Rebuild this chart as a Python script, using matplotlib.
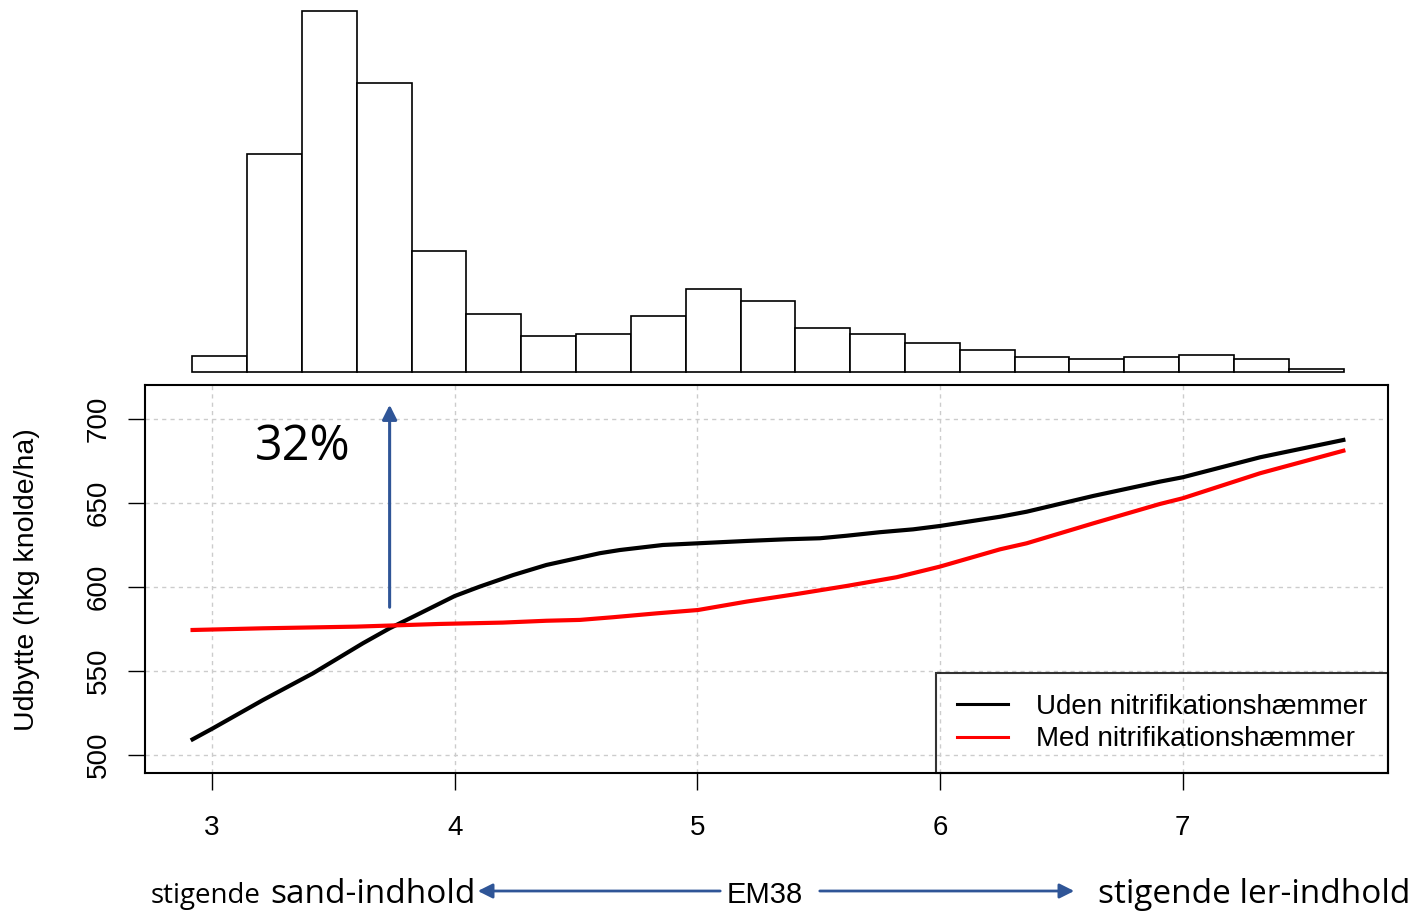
import numpy as np
import matplotlib.pyplot as plt

# EM38 values and yield curves
em38_uden = [2.920, 3.004, 3.210, 3.416, 3.622, 3.732, 3.829, 4.000, 4.103, 4.241,
             4.378, 4.598, 4.681, 4.858, 5.002, 5.203, 5.368, 5.505, 5.615, 5.752,
             5.889, 5.999, 6.247, 6.357, 6.632, 6.906, 7.000, 7.319, 7.662]
udbytte_uden = [509.3, 515.9, 532.7, 548.6, 566.5, 575.4, 582.3, 594.6, 600.2, 607.1,
                613.1, 620.1, 622.0, 625.0, 626.0, 627.4, 628.4, 629.0, 630.5, 632.6,
                634.3, 636.3, 641.8, 644.8, 654.2, 662.7, 665.3, 677.2, 687.5]

em38_med = [2.920, 3.209, 3.595, 3.939, 4.198, 4.378, 4.516, 4.653, 4.832, 5.003,
            5.203, 5.409, 5.615, 5.821, 5.999, 6.247, 6.357, 6.632, 6.906, 7.000,
            7.319, 7.662]
udbytte_med = [574.4, 575.4, 576.4, 578.0, 578.8, 579.9, 580.4, 582.0, 584.3, 586.3,
               591.3, 595.8, 600.6, 605.8, 612.1, 622.4, 626.0, 637.9, 649.4, 652.8,
               667.7, 681.1]

# histogram of EM38 (bar heights, arbitrary units)
hist_edges = [2.919, 3.145, 3.371, 3.597, 3.823, 4.048, 4.274, 4.500, 4.726, 4.952,
              5.178, 5.404, 5.630, 5.856, 6.082, 6.308, 6.533, 6.759, 6.985, 7.211,
              7.437, 7.663]
hist_counts = [16, 218, 361, 289, 121, 58, 36, 38, 56, 83, 71, 44, 38, 29, 22, 15,
               13, 15, 17, 13, 3.5]

x_ticks = [3, 4, 5, 6, 7]
y_ticks = [500, 550, 600, 650, 700]
labels = ['Uden nitrifikationshæmmer', 'Med nitrifikationshæmmer']

plt.rcParams['font.family'] = ['Liberation Sans', 'DejaVu Sans']
blue = '#2F5597'
W, H = 1417, 911

fig = plt.figure(figsize=(W / 100, H / 100), dpi=100)
ax = fig.add_axes([145 / W, 1 - 773.3 / H, 1243 / W, 388.6 / H])
axh = fig.add_axes([145 / W, 1 - 372 / H, 1243 / W, 361 / H])

# histogram on top
bars = axh.bar(hist_edges[:-1], hist_counts, width=np.diff(hist_edges), align='edge',
               facecolor='white', edgecolor='black', linewidth=1.2)
for b in bars:
    b.set_clip_on(False)
axh.set_xlim(2.724, 7.846)
axh.set_ylim(0, 361)
axh.axis('off')

# main plot
ax.plot(em38_uden, udbytte_uden, color='black', lw=3, label=labels[0])
ax.plot(em38_med, udbytte_med, color='red', lw=3, label=labels[1])
ax.set_xlim(2.724, 7.846)
ax.set_ylim(489.1, 720.4)
ax.set_xticks(x_ticks)
ax.set_yticks(y_ticks)
ax.grid(color='#cccccc', linestyle=(0, (3, 3)), lw=1)
ax.set_axisbelow(True)
for s in ax.spines.values():
    s.set_linewidth(1.5)
ax.tick_params(length=12, width=1, direction='out', labelsize=20)
ax.tick_params(axis='x', pad=18)
ax.tick_params(axis='y', pad=12)
for lab in ax.get_yticklabels():
    lab.set_rotation(90)
    lab.set_va('center')

leg = ax.legend(loc='lower right', bbox_to_anchor=(1, 0), borderaxespad=0,
                fancybox=False, edgecolor='black', fontsize=20, handlelength=1.85,
                handletextpad=1.0, labelspacing=0.25, borderpad=0.75)
leg.get_frame().set_facecolor('none')
leg.get_frame().set_linewidth(1.5)
for ln in leg.get_lines():
    ln.set_linewidth(2.2)

# 32% annotation
ax.annotate('', xy=(3.732, 710.1), xytext=(3.732, 586.3),
            arrowprops=dict(arrowstyle='-|>', color=blue, lw=2.2, mutation_scale=22))
ax.text(3.176, 675.6, '32%', fontsize=35, family=['Open Sans', 'DejaVu Sans'],
        va='baseline')

fig.text(27 / W, 1 - 580 / H, 'Udbytte (hkg knolde/ha)', rotation=90,
         ha='center', va='center', fontsize=20.5)

# bottom EM38 explanation
base = 1 - 903 / H
osans = ['Open Sans', 'DejaVu Sans']
fig.text(151 / W, base, 'stigende', fontsize=20, family=osans, va='baseline')
fig.text(270 / W, base, 'sand-indhold', fontsize=24, family=osans, va='baseline')
fig.text(1098 / W, base, 'stigende ler-indhold', fontsize=24, family=osans, va='baseline')
fig.text(765 / W, base, 'EM38', fontsize=21, ha='center', va='baseline')
ay = 1 - 891 / H
ax.annotate('', xy=(475 / W, ay), xytext=(723 / W, ay), xycoords='figure fraction',
            arrowprops=dict(arrowstyle='-|>', color=blue, lw=2, mutation_scale=22))
ax.annotate('', xy=(1077 / W, ay), xytext=(817 / W, ay), xycoords='figure fraction',
            arrowprops=dict(arrowstyle='-|>', color=blue, lw=2, mutation_scale=22))

fig.savefig('out.png', dpi=100)
